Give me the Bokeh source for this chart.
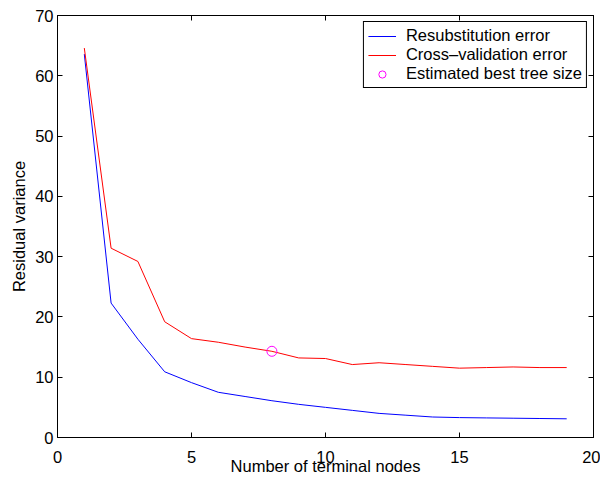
from bokeh.plotting import figure
from bokeh.models import Range1d, LinearAxis, FixedTicker, Legend, LegendItem
from bokeh.embed import file_html
from bokeh.resources import INLINE

# Data
nodes = list(range(1, 20))
resub_error = [63.6, 22.3, 16.3, 10.9, 9.1, 7.5, 6.8, 6.1, 5.5, 5.0, 4.5, 4.0, 3.7, 3.4, 3.3, 3.25, 3.2, 3.15, 3.1]
cv_error = [64.6, 31.4, 29.2, 19.2, 16.4, 15.8, 15.0, 14.3, 13.2, 13.1, 12.1, 12.4, 12.1, 11.8, 11.5, 11.6, 11.7, 11.6, 11.6]
best_size = [8]
best_value = [14.3]
x_ticks = [0, 5, 10, 15, 20]
y_ticks = [0, 10, 20, 30, 40, 50, 60, 70]
x_label = "Number of terminal nodes"
y_label = "Residual variance"

FONT = "Liberation Sans"
FS = "16.5px"

p = figure(width=600, height=477, output_backend="svg", toolbar_location=None,
           x_range=Range1d(0, 20), y_range=Range1d(0, 70),
           min_border_left=57, min_border_top=15, min_border_right=7, min_border_bottom=40)
p.background_fill_color = "white"
p.border_fill_color = "white"
p.grid.visible = False
p.outline_line_color = "black"
p.outline_line_alpha = 1.0
p.outline_line_width = 1

for ax in (p.xaxis[0], p.yaxis[0]):
    ax.major_tick_in = 5
    ax.major_tick_out = 0
    ax.minor_tick_line_color = None
    ax.axis_line_color = "black"
    ax.major_tick_line_color = "black"
    ax.major_label_text_font = FONT
    ax.major_label_text_font_size = FS
    ax.major_label_text_color = "black"
    ax.axis_label_text_font = FONT
    ax.axis_label_text_font_size = FS
    ax.axis_label_text_font_style = "normal"
    ax.axis_label_text_color = "black"

p.xaxis[0].ticker = FixedTicker(ticks=x_ticks)
p.yaxis[0].ticker = FixedTicker(ticks=y_ticks)
p.xaxis[0].axis_label = x_label
p.yaxis[0].axis_label = y_label
p.xaxis[0].major_label_standoff = 13
p.xaxis[0].axis_label_standoff = -9
p.yaxis[0].major_label_standoff = 4
p.yaxis[0].axis_label_standoff = 4

top_ax = LinearAxis(ticker=FixedTicker(ticks=x_ticks), major_tick_in=5, major_tick_out=0,
                    minor_tick_line_color=None, major_label_text_font_size="0px",
                    major_label_standoff=0, axis_line_color="black")
right_ax = LinearAxis(ticker=FixedTicker(ticks=y_ticks), major_tick_in=5, major_tick_out=0,
                      minor_tick_line_color=None, major_label_text_font_size="0px",
                      major_label_standoff=0, axis_line_color="black")
p.add_layout(top_ax, "above")
p.add_layout(right_ax, "right")

r1 = p.line(nodes, resub_error, line_color="#0000ff", line_width=1)
r2 = p.line(nodes, cv_error, line_color="#ff0000", line_width=1)
r3 = p.scatter(best_size, best_value, marker="circle", size=10, fill_color=None,
               line_color="#ff00ff", line_width=1)

legend = Legend(items=[
    LegendItem(label="Resubstitution error", renderers=[r1]),
    LegendItem(label="Cross\u2013validation error", renderers=[r2]),
    LegendItem(label="Estimated best tree size", renderers=[r3]),
], location="top_right")
legend.label_text_font = FONT
legend.label_text_font_size = FS
legend.label_text_color = "black"
legend.border_line_color = "black"
legend.border_line_width = 1
legend.border_line_alpha = 1.0
legend.background_fill_alpha = 1.0
legend.margin = 6
legend.padding = 4
legend.spacing = 0
legend.glyph_width = 28
legend.glyph_height = 18
legend.label_height = 18
legend.label_standoff = 10
p.add_layout(legend, "center")

open("out.html", "w").write(file_html(p, INLINE))
